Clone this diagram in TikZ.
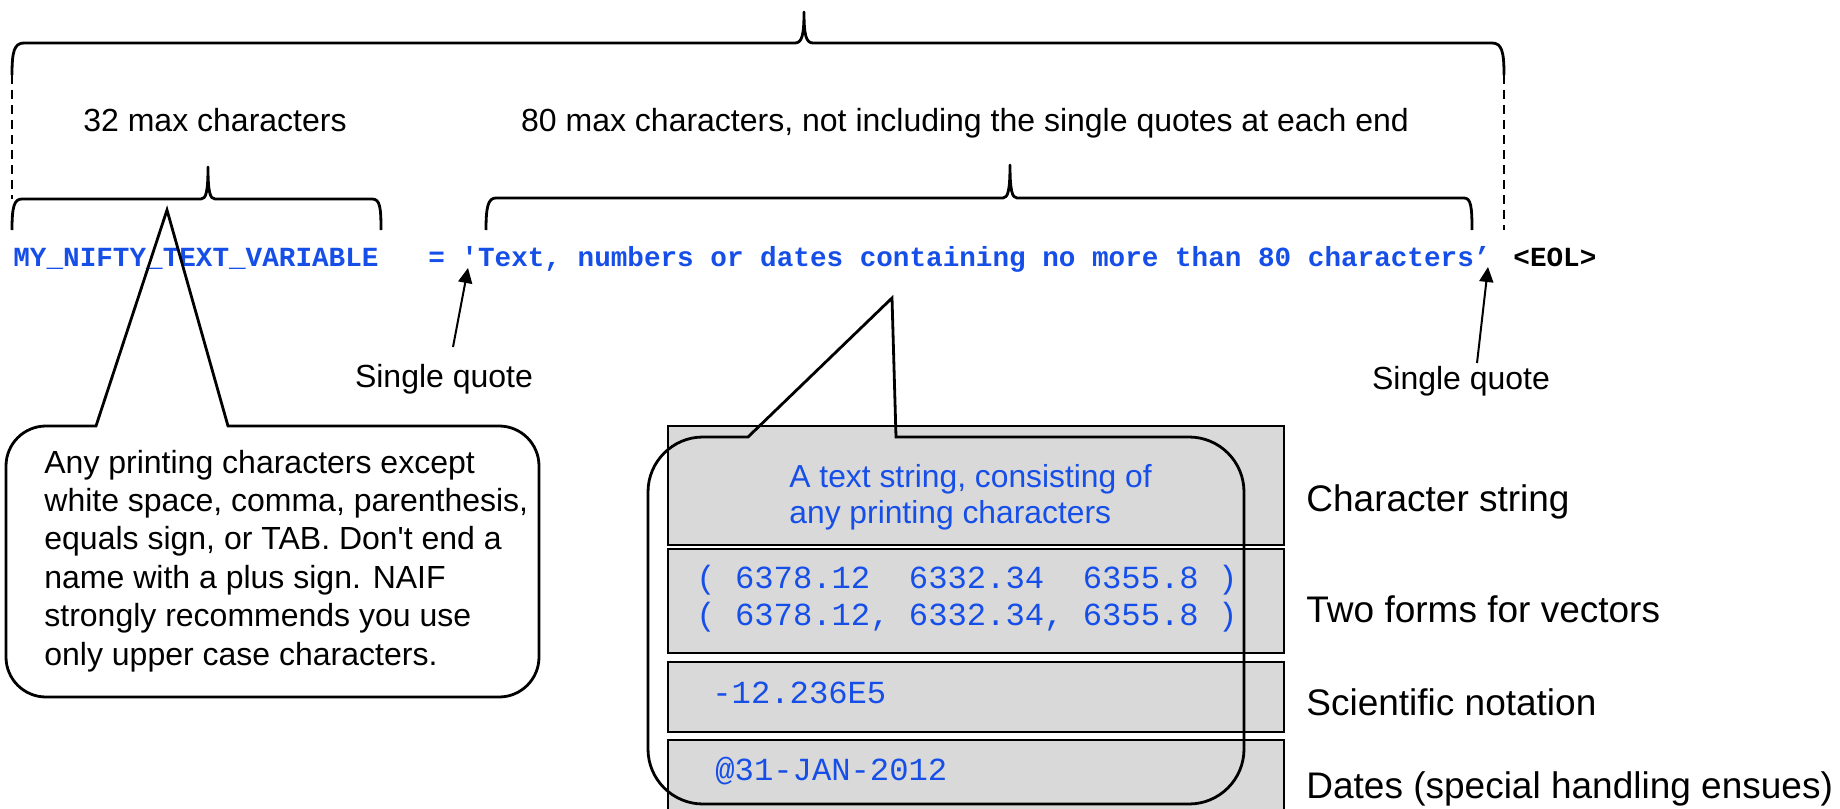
\documentclass[tikz,border=0pt]{standalone}
\usepackage{fontspec}
\setmainfont{Liberation Sans}[Ligatures=TeXOff]
\setmonofont{Liberation Mono}
\usetikzlibrary{arrows.meta}
\definecolor{codeblue}{RGB}{22,78,232}
\definecolor{boxgray}{RGB}{217,217,217}
\begin{document}
\begin{tikzpicture}[x=0.5pt,y=-0.5pt,
  bracepath/.style={line width=1.4pt, line join=round, line cap=butt},
  dashline/.style={line width=0.8pt, dash pattern=on 4.5pt off 3pt},
  calloutline/.style={line width=1.4pt, line join=miter},
  rowbox/.style={draw, line width=1pt, fill=boxgray},
  lbl/.style={inner sep=0, anchor=base, font=\fontsize{16}{19.2}\selectfont},
  sidelbl/.style={inner sep=0, anchor=base west, font=\fontsize{18.5}{22}\selectfont},
  codetxt/.style={inner sep=0, anchor=base west, font=\ttfamily\bfseries\fontsize{13.83}{16}\selectfont},
  monotxt/.style={inner sep=0, anchor=base west, text=codeblue, font=\ttfamily\fontsize{16.1}{18.5}\selectfont},
  ptr/.style={line width=1pt, -{Triangle[length=7.5pt,width=7pt]}}
]
\useasboundingbox (0,0) rectangle (1840,808);

% ---- braces ----
\draw[bracepath] (12,75) .. controls (12,52) and (14,43) .. (24,43) -- (795,43)
  .. controls (802,43) and (804,35) .. (804,12)
  .. controls (804,35) and (806,43) .. (813,43) -- (1492,43)
  .. controls (1502,43) and (1504,52) .. (1504,75);
\draw[dashline] (12,75) -- (12,199);
\draw[dashline] (1504,75) -- (1504,230);

\draw[bracepath] (12,230) .. controls (12,207) and (14,199) .. (22,199) -- (201,199)
  .. controls (206,199) and (208,192) .. (208,167)
  .. controls (208,192) and (210,199) .. (215,199) -- (372,199)
  .. controls (380,199) and (381,207) .. (381,230);

\draw[bracepath] (486,230) .. controls (486,207) and (488,198) .. (496,198) -- (1003,198)
  .. controls (1008,198) and (1010,190) .. (1010,165)
  .. controls (1010,190) and (1012,198) .. (1017,198) -- (1464,198)
  .. controls (1471,198) and (1472,207) .. (1472,230);

% ---- brace labels ----
\node[lbl] (max32) at (215,132) {32 max characters};
\node[lbl] (max80) at (965,132) {80 max characters, not including the single quotes at each end};

% ---- code line ----
\node[codetxt, text=codeblue] (codeline) at (13,266)
  {MY\_NIFTY\_TEXT\_VARIABLE\ \ \ = 'Text, numbers or dates containing no more than 80 characters’};
\node[codetxt, text=black] (eol) at (1513,266) {<EOL>};

% ---- single quote arrows ----
\node[lbl] (sq1) at (444,387) {Single quote};
\node[lbl] (sq2) at (1461,389) {Single quote};
\coordinate (q1tail) at (453,347);
\coordinate (q1tip) at (468,268);
\coordinate (q2tail) at (1477,363);
\coordinate (q2tip) at (1488,267);
\draw[ptr] (q1tail) -- (q1tip);
\draw[ptr] (q2tail) -- (q2tip);

% ---- gray rows ----
\draw[rowbox] (668,426) rectangle (1284,545);
\draw[rowbox] (668,549) rectangle (1284,653);
\draw[rowbox] (668,662) rectangle (1284,732);
\draw[rowbox] (668,740) rectangle (1284,830);

\node[inner sep=0, anchor=base west, align=left, text=codeblue,
  font=\fontsize{15.9}{18}\selectfont] (strtxt) at (789,523)
  {A text string, consisting of\\any printing characters};
\node[monotxt] (vec1) at (696,588) {(\ 6378.12\ \ 6332.34\ \ 6355.8\ )};
\node[monotxt] (vec2) at (696,625) {(\ 6378.12,\ 6332.34,\ 6355.8\ )};
\node[monotxt] (sci) at (712,703) {-12.236E5};
\node[monotxt] (date) at (715,780) {@31-JAN-2012};

% ---- right labels ----
\node[sidelbl] (lab1) at (1306,511) {Character string};
\node[sidelbl] (lab2) at (1306,622) {Two forms for vectors};
\node[sidelbl] (lab3) at (1306,715) {Scientific notation};
\node[sidelbl] (lab4) at (1306,798) {Dates (special handling ensues)};

% ---- callout 1 ----
\draw[calloutline] (96,426) -- (167,210) -- (228,426) -- (499,426)
  .. controls (521.1,426) and (539,443.9) .. (539,466) -- (539,657)
  .. controls (539,679.1) and (521.1,697) .. (499,697) -- (46,697)
  .. controls (23.9,697) and (6,679.1) .. (6,657) -- (6,466)
  .. controls (6,443.9) and (23.9,426) .. (46,426) -- cycle;
\node[inner sep=0, anchor=base west, align=left,
  font=\fontsize{16}{19.2}\selectfont] (rules) at (44,665)
  {Any printing characters except\\white space, comma, parenthesis,\\equals sign, or TAB. Don't end a\\name with a plus sign. NAIF\\strongly recommends you use\\only upper case characters.};

% ---- callout 2 ----
\draw[calloutline] (748,437) -- (892,298) -- (896,437) -- (1189,437)
  .. controls (1219.4,437) and (1244,461.6) .. (1244,492) -- (1244,749)
  .. controls (1244,779.4) and (1219.4,804) .. (1189,804) -- (703,804)
  .. controls (672.6,804) and (648,779.4) .. (648,749) -- (648,492)
  .. controls (648,461.6) and (672.6,437) .. (703,437) -- cycle;
\end{tikzpicture}
\end{document}
